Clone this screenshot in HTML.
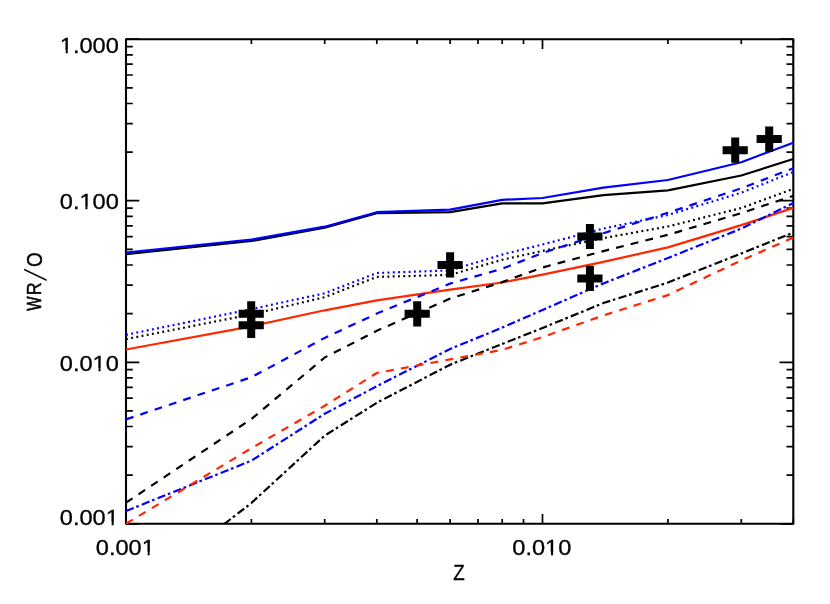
<!DOCTYPE html>
<html><head><meta charset="utf-8"><title>WR/O vs Z</title>
<style>html,body{margin:0;padding:0;background:#fff}svg{display:block;will-change:transform}text{font-family:"Liberation Sans",sans-serif;fill:#000;stroke:#000;stroke-width:0.3px}</style></head><body>
<svg width="830" height="604" viewBox="0 0 830 604">
<rect x="0" y="0" width="830" height="604" fill="#fff"/>
<defs><clipPath id="c"><rect x="125.55" y="38.70" width="668.35" height="485.60"/></clipPath></defs>
<path d="M126.0 523.8v-9.7M126.0 39.2v9.7M251.4 523.8v-4.8M251.4 39.2v4.8M324.7 523.8v-4.8M324.7 39.2v4.8M376.8 523.8v-4.8M376.8 39.2v4.8M417.1 523.8v-4.8M417.1 39.2v4.8M450.1 523.8v-4.8M450.1 39.2v4.8M478.0 523.8v-4.8M478.0 39.2v4.8M502.2 523.8v-4.8M502.2 39.2v4.8M523.5 523.8v-4.8M523.5 39.2v4.8M542.5 523.8v-9.7M542.5 39.2v9.7M667.9 523.8v-4.8M667.9 39.2v4.8M741.3 523.8v-4.8M741.3 39.2v4.8M793.3 523.8v-4.8M793.3 39.2v4.8M126.0 523.8h13.3M793.3 523.8h-13.8M126.0 475.2h6.8M793.3 475.2h-6.8M126.0 446.7h6.8M793.3 446.7h-6.8M126.0 426.5h6.8M793.3 426.5h-6.8M126.0 410.9h6.8M793.3 410.9h-6.8M126.0 398.1h6.8M793.3 398.1h-6.8M126.0 387.3h6.8M793.3 387.3h-6.8M126.0 377.9h6.8M793.3 377.9h-6.8M126.0 369.7h6.8M793.3 369.7h-6.8M126.0 362.3h13.3M793.3 362.3h-13.8M126.0 313.6h6.8M793.3 313.6h-6.8M126.0 285.2h6.8M793.3 285.2h-6.8M126.0 265.0h6.8M793.3 265.0h-6.8M126.0 249.4h6.8M793.3 249.4h-6.8M126.0 236.6h6.8M793.3 236.6h-6.8M126.0 225.8h6.8M793.3 225.8h-6.8M126.0 216.4h6.8M793.3 216.4h-6.8M126.0 208.1h6.8M793.3 208.1h-6.8M126.0 200.7h13.3M793.3 200.7h-13.8M126.0 152.1h6.8M793.3 152.1h-6.8M126.0 123.7h6.8M793.3 123.7h-6.8M126.0 103.5h6.8M793.3 103.5h-6.8M126.0 87.8h6.8M793.3 87.8h-6.8M126.0 75.0h6.8M793.3 75.0h-6.8M126.0 64.2h6.8M793.3 64.2h-6.8M126.0 54.9h6.8M793.3 54.9h-6.8M126.0 46.6h6.8M793.3 46.6h-6.8M126.0 39.2h13.3M793.3 39.2h-13.8" stroke="#000" stroke-width="1.7" fill="none"/>
<rect x="126.0" y="39.2" width="667.3" height="484.6" fill="none" stroke="#000" stroke-width="2.1" stroke-linejoin="round"/>
<g clip-path="url(#c)" fill="none" stroke-width="2.2" stroke-linejoin="round">
<polyline points="126.0,254.1 251.4,241.0 324.7,227.7 376.8,213.2 450.1,212.1 502.2,203.4 542.5,203.3 603.4,195.2 667.9,190.3 741.3,175.5 793.3,159.0" stroke="#000"/>
<polyline points="126.0,252.5 251.4,239.7 324.7,226.7 376.8,212.2 450.1,209.7 502.2,199.8 542.5,198.0 603.4,187.6 667.9,180.0 741.3,162.2 793.3,142.7" stroke="#0000ff"/>
<polyline points="126.0,339.1 251.4,314.4 324.7,297.2 376.8,276.9 450.1,274.9 502.2,259.8 542.5,250.9 603.4,238.1 667.9,226.5 741.3,208.0 793.3,188.9" stroke="#000" stroke-dasharray="1.9 3.387"/>
<polyline points="126.0,334.8 251.4,309.1 324.7,293.3 376.8,273.0 450.1,270.4 502.2,254.6 542.5,244.5 603.4,228.6 667.9,215.0 741.3,192.7 793.3,172.0" stroke="#0000ff" stroke-dasharray="1.9 3.387"/>
<polyline points="126.0,349.5 251.4,326.3 324.7,310.3 376.8,300.3 450.1,289.6 502.2,282.5 542.5,274.7 603.4,261.8 667.9,247.4 741.3,225.1 793.3,207.9" stroke="#ff2600"/>
<polyline points="126.0,502.7 251.4,419.0 324.7,357.5 376.8,330.8 450.1,298.6 502.2,282.1 542.5,267.5 603.4,251.1 667.9,234.8 741.3,213.1 793.3,195.8" stroke="#000" stroke-dasharray="7.85 7.25"/>
<polyline points="126.0,419.4 251.4,377.2 324.7,337.9 376.8,313.6 450.1,283.6 502.2,268.7 542.5,253.0 603.4,233.2 667.9,212.8 741.3,188.3 793.3,168.2" stroke="#0000ff" stroke-dasharray="7.85 7.25"/>
<polyline points="126.0,600.0 251.4,503.0 324.7,435.6 376.8,402.8 450.1,364.7 502.2,344.0 542.5,328.0 603.4,303.0 667.9,282.6 741.3,253.4 793.3,232.6" stroke="#000" stroke-dasharray="8.3 2.8 2.6 3.31" stroke-dashoffset="12.0"/>
<polyline points="126.0,511.0 251.4,460.7 324.7,413.8 376.8,386.2 450.1,349.0 502.2,327.6 542.5,310.0 603.4,283.4 667.9,258.0 741.3,228.6 793.3,203.0" stroke="#0000ff" stroke-dasharray="8.3 2.8 2.6 3.31"/>
<polyline points="126.0,523.7 251.4,448.2 324.7,405.8 376.8,373.0 450.1,359.4 502.2,349.8 542.5,337.1 603.4,315.4 667.9,295.1 741.3,260.4 793.3,237.6" stroke="#ff2600" stroke-dasharray="7.85 7.25"/>
</g>
<g stroke="#000" stroke-width="8" fill="none">
<path d="M238.6 313.8H263.8M251.2 301.2V326.4"/>
<path d="M238.6 325.3H263.8M251.2 312.7V337.9"/>
<path d="M404.6 313.8H429.8M417.2 301.2V326.4"/>
<path d="M437.5 264.9H462.7M450.1 252.3V277.5"/>
<path d="M577.3 236.5H602.5M589.9 223.9V249.1"/>
<path d="M577.3 278.4H602.5M589.9 265.8V291.0"/>
<path d="M722.6 150.2H747.8M735.2 137.6V162.8"/>
<path d="M756.6 139.1H781.8M769.2 126.5V151.7"/>
</g>
<text x="118.80" y="53.10" font-size="21.5" text-anchor="end" textLength="59.0" lengthAdjust="spacingAndGlyphs">1.000</text>
<rect x="60.95" y="50.20" width="4.78" height="5" fill="#fff"/>
<rect x="67.81" y="50.20" width="4.65" height="5" fill="#fff"/>
<text x="118.80" y="209.30" font-size="21.5" text-anchor="end" textLength="59.0" lengthAdjust="spacingAndGlyphs">0.100</text>
<rect x="80.62" y="206.40" width="4.78" height="5" fill="#fff"/>
<rect x="87.48" y="206.40" width="4.65" height="5" fill="#fff"/>
<text x="118.80" y="370.80" font-size="21.5" text-anchor="end" textLength="59.0" lengthAdjust="spacingAndGlyphs">0.010</text>
<rect x="93.73" y="367.90" width="4.78" height="5" fill="#fff"/>
<rect x="100.59" y="367.90" width="4.65" height="5" fill="#fff"/>
<text x="118.80" y="525.00" font-size="21.5" text-anchor="end" textLength="59.0" lengthAdjust="spacingAndGlyphs">0.001</text>
<rect x="106.85" y="522.10" width="4.78" height="5" fill="#fff"/>
<rect x="113.71" y="522.10" width="4.65" height="5" fill="#fff"/>
<text x="154.80" y="554.70" font-size="21.5" text-anchor="end" textLength="59.0" lengthAdjust="spacingAndGlyphs">0.001</text>
<rect x="142.85" y="551.80" width="4.78" height="5" fill="#fff"/>
<rect x="149.71" y="551.80" width="4.65" height="5" fill="#fff"/>
<text x="571.30" y="554.70" font-size="21.5" text-anchor="end" textLength="59.0" lengthAdjust="spacingAndGlyphs">0.010</text>
<rect x="546.23" y="551.80" width="4.78" height="5" fill="#fff"/>
<rect x="553.09" y="551.80" width="4.65" height="5" fill="#fff"/>
<text x="458.9" y="580.45" font-size="22.4" text-anchor="middle" textLength="11.5" lengthAdjust="spacingAndGlyphs">Z</text>
<text transform="translate(40.60 310.82) rotate(-90) scale(0.7006 0.9059)" font-size="21.5" style="stroke-width:0.75px">W</text>
<text transform="translate(40.70 295.26) rotate(-90) scale(0.8304 0.9566)" font-size="21.5" style="stroke-width:0.45px">R</text>
<text transform="translate(46.01 280.70) rotate(-90) skewX(-16.36) scale(0.9600 1.3934)" font-size="21.5" style="stroke-width:0.3px">/</text>
<text transform="translate(41.88 266.99) rotate(-90) scale(0.8722 1.0577)" font-size="21.5" style="stroke-width:0.4px">O</text>
</svg></body></html>
